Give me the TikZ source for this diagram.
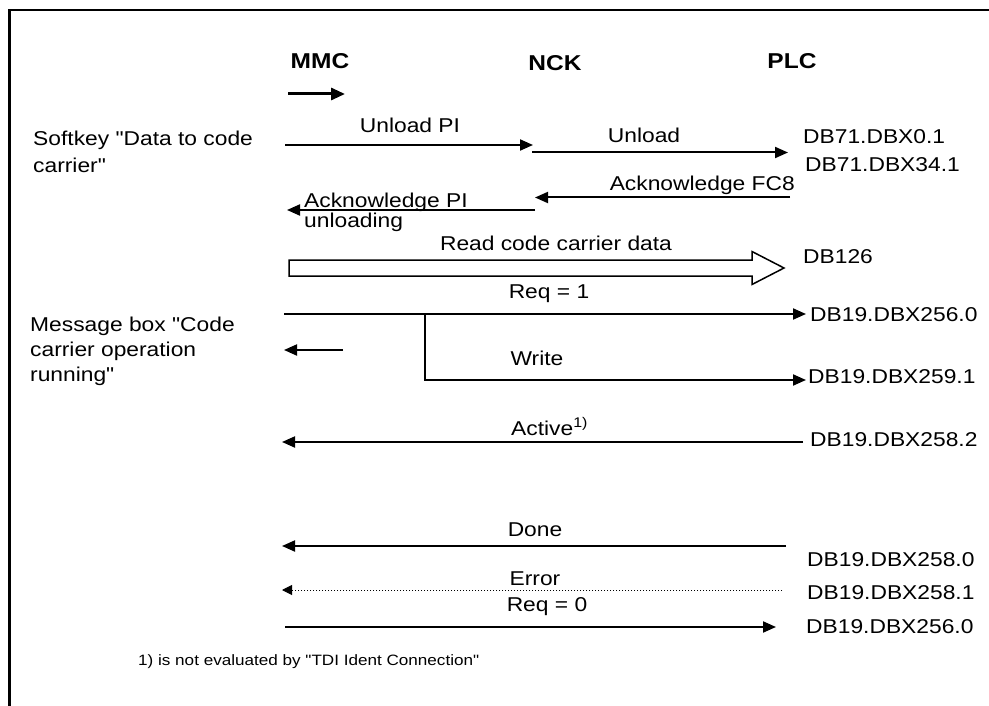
\documentclass[tikz,border=0pt]{standalone}
\usepackage{fontspec}
\setmainfont{Liberation Sans}[FakeStretch=1.14,Ligatures=TeXOff]
\usetikzlibrary{arrows.meta}
\begin{document}
\begin{tikzpicture}[x=1pt,y=-1pt,
	lbl/.style={inner sep=0pt,font=\fontsize{20}{25}\selectfont},
	hd/.style={inner sep=0pt,font=\fontsize{21.5}{26}\selectfont\bfseries},
	sig/.style={line width=2pt,-{Triangle[length=13pt,width=11pt]}},
	errsig/.style={line width=1pt,dotted,-{Triangle[length=10pt,width=10pt]}}]
	\useasboundingbox (0,0) rectangle (989,706);
	\draw[line width=2.5pt] (989,10)--(9.5,10)--(9.5,706);
	\foreach \n/\x/\y in {MMC/320/61,NCK/555/63,PLC/792/61} \node[hd] (\n) at (\x,\y) {\n};
	\foreach \n/\x/\y/\t in {db1/803/137/DB71.DBX0.1,db2/805/165/DB71.DBX34.1,db3/803/257/DB126,db4/810/315/DB19.DBX256.0,db5/808/377/DB19.DBX259.1,db6/810/440/DB19.DBX258.2,db7/807/560/DB19.DBX258.0,db8/807/593/DB19.DBX258.1,db9/806/627/DB19.DBX256.0}
		\node[lbl,anchor=west] (\n) at (\x,\y) {\t};
	\node[lbl,anchor=north west,align=left,font=\fontsize{20}{27}\selectfont] (soft) at (33,131) {Softkey "Data to code\\carrier"};
	\node[lbl,anchor=north west,align=left] (msg) at (30,317) {Message box "Code\\carrier operation\\running"};
	\node[lbl] (unpi) at (410,125) {Unload PI};
	\node[lbl] (unl) at (644,135.5) {Unload};
	\node[lbl,anchor=east] (ackfc) at (795,185.5) {Acknowledge FC8};
	\node[lbl,anchor=north west,align=left,font=\fontsize{20}{20}\selectfont] (ackpi) at (304,193) {Acknowledge PI\\unloading};
	\node[lbl] (read) at (556,243) {Read code carrier data};
	\node[lbl] (req1) at (549,294) {Req = 1};
	\node[lbl] (wr) at (537,358) {Write};
	\node[lbl,anchor=base west] (act) at (511,435) {Active\textsuperscript{1)}};
	\node[lbl] (done) at (535,530) {Done};
	\node[lbl] (err) at (535,579) {Error};
	\node[lbl] (req0) at (547,607) {Req = 0};
	\node[lbl,anchor=west,font=\fontsize{15}{18}\selectfont] (note) at (138,662) {1) is not evaluated by "TDI Ident Connection"};
	\path (288,94) coordinate (s0) (345,94) coordinate (s1)
	(285,145) coordinate (u0) (533,145) coordinate (u1)
	(532,152.5) coordinate (n0) (788,152.5) coordinate (n1)
	(790,197.5) coordinate (f0) (535,197.5) coordinate (f1)
	(535,210) coordinate (p0) (287,210) coordinate (p1)
	(289,268) coordinate (r0) (784,268) coordinate (r1)
	(284,314) coordinate (q0) (806,314) coordinate (q1) (425,314) coordinate (w0) (806,380) coordinate (w1)
	(343,350) coordinate (m0) (284,350) coordinate (m1)
	(803,442) coordinate (a0) (282,442) coordinate (a1)
	(786,546) coordinate (d0) (282,546) coordinate (d1)
	(782,590) coordinate (e0) (282,590) coordinate (e1)
	(285,627) coordinate (z0) (776,627) coordinate (z1);
	\draw[line width=3pt,-{Triangle[length=14pt,width=12pt]}] (s0)--(s1);
	\foreach \a/\b in {u0/u1,n0/n1,f0/f1,p0/p1,q0/q1,m0/m1,a0/a1,d0/d1,z0/z1} \draw[sig] (\a)--(\b);
	\draw[sig] (w0)|-(w1);
	\draw[errsig] (e0)--(e1);
	\draw[line width=1.5pt,line join=miter] (r0)++(0,-8)--++(463,0)--++(0,-8.5)--(r1)--++(-32,16.5)--++(0,-8.5)--++(-463,0)--cycle;
\end{tikzpicture}
\end{document}
